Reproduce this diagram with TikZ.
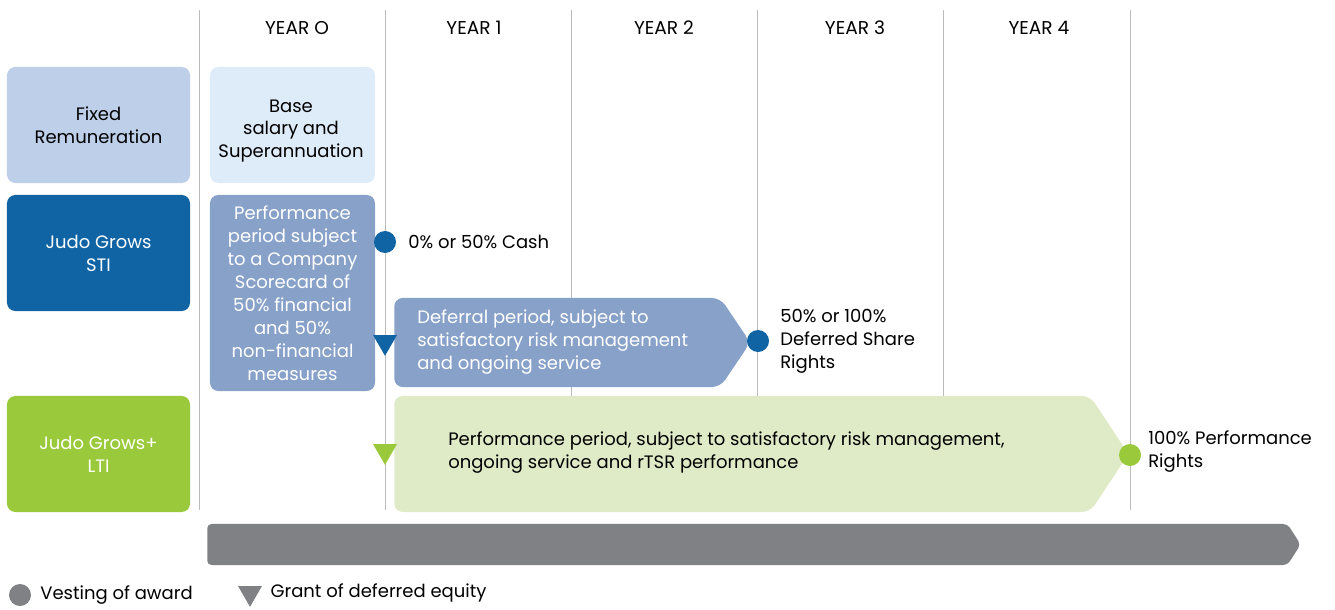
\documentclass[tikz,border=0pt]{standalone}
\usepackage{fontspec}
\setmainfont{Poppins}
\usepackage{xcolor}
\usetikzlibrary{shapes.geometric, shapes.symbols, positioning}
\definecolor{fixblue}{HTML}{BDCFE9}
\definecolor{paleblue}{HTML}{DEEBF8}
\definecolor{stiblue}{HTML}{1064A4}
\definecolor{midblue}{HTML}{87A1C9}
\definecolor{ltigreen}{HTML}{9ACA3C}
\definecolor{palegreen}{HTML}{DFEBC7}
\definecolor{bargrey}{HTML}{808185}
\definecolor{linegrey}{HTML}{BBBBBB}
\tikzstyle{block} = [rectangle, rounded corners=6pt, text centered, align=center, inner sep=0pt, font=\fontsize{12.8}{16.3}\selectfont]
\tikzstyle{period} = [signal, signal to=east, rounded corners=6pt, inner sep=0pt]
\tikzstyle{note} = [anchor=west, align=left, inner sep=0pt, font=\fontsize{12.8}{16.3}\selectfont]
\tikzstyle{vest} = [circle, minimum size=0.55cm, inner sep=0pt]
\tikzstyle{grant} = [regular polygon, regular polygon sides=3, shape border rotate=180, minimum size=0.69cm, inner sep=0pt]

\begin{document}
\begin{tikzpicture}[x=0.025cm, y=-0.025cm]
    \useasboundingbox (0,0) rectangle (1335,610);

    % Year grid
    \foreach \x in {199,385,571,757,943,1130}
        \draw[linegrey, line width=0.7pt] (\x,10) -- (\x,510);
    \foreach \n/\x in {0/297,1/474,2/664,3/855,4/1039}
        \node[font=\fontsize{13.2}{15}\selectfont] (year\n) at (\x,28) {YEAR \ifnum\n=0 O\else\n\fi};

    % Row labels
    \node (fixed) [block, fill=fixblue, minimum width=4.575cm, minimum height=2.9cm] at (98.5,125) {Fixed\\Remuneration};
    \node (sti) [block, fill=stiblue, text=white, minimum width=4.575cm, minimum height=2.9cm] at (98.5,253) {Judo Grows\\STI};
    \node (lti) [block, fill=ltigreen, text=white, minimum width=4.575cm, minimum height=2.9cm] at (98.5,454) {Judo Grows+\\LTI};

    % Year 0 boxes
    \node (base) [block, fill=paleblue, minimum width=4.125cm, minimum height=2.9cm] at (292.5,125) {};
    \node (basetext) [block] at (291,131) {Base\\salary and\\Superannuation};
    \node (stiperf) [block, fill=midblue, text=white, minimum width=4.125cm, minimum height=4.9cm] at (292.5,293) {Performance\\period subject\\to a Company\\Scorecard of\\50\% financial\\and 50\%\\non-financial\\measures};

    % Deferral and LTI periods
    \node (defer) [period, fill=midblue, minimum width=8.9cm, minimum height=2.225cm, signal pointer angle=112, anchor=west] at (394,342.5) {};
    \node (defertext) [note, text=white] at (417,342) {Deferral period, subject to\\satisfactory risk management\\and ongoing service};
    \node (ltiperiod) [period, fill=palegreen, minimum width=18.35cm, minimum height=2.9cm, signal pointer angle=113, anchor=west] at (394,454) {};
    \node (ltitext) [note] at (448,453) {Performance period, subject to satisfactory risk management,\\ongoing service and rTSR performance};

    % Vesting and grant markers
    \node (cashdot) [vest, fill=stiblue] at (385,242) {};
    \node (cash) [note] at (408,242) {0\% or 50\% Cash};
    \node (stigrant) [grant, fill=stiblue] at (385,342) {};
    \node (sharedot) [vest, fill=stiblue] at (758,341) {};
    \node (shares) [note] at (780,341) {50\% or 100\%\\Deferred Share\\Rights};
    \node (ltigrant) [grant, fill=ltigreen] at (385,451) {};
    \node (rightsdot) [vest, fill=ltigreen] at (1130,455) {};
    \node (rights) [note] at (1148,452) {100\% Performance\\Rights};

    % Time bar
    \node (timebar) [period, fill=bargrey, minimum width=27.325cm, minimum height=1.025cm, signal pointer angle=115, rounded corners=3pt, anchor=west] at (207,544.5) {};

    % Legend
    \node (legvest) [vest, fill=bargrey] at (20,595) {};
    \node (legvesttext) [note, right=0.22cm of legvest] {Vesting of award};
    \node (leggrant) [grant, fill=bargrey] at (250,593) {};
    \node (leggranttext) [note, right=0.3cm of leggrant] {Grant of deferred equity};
\end{tikzpicture}
\end{document}
